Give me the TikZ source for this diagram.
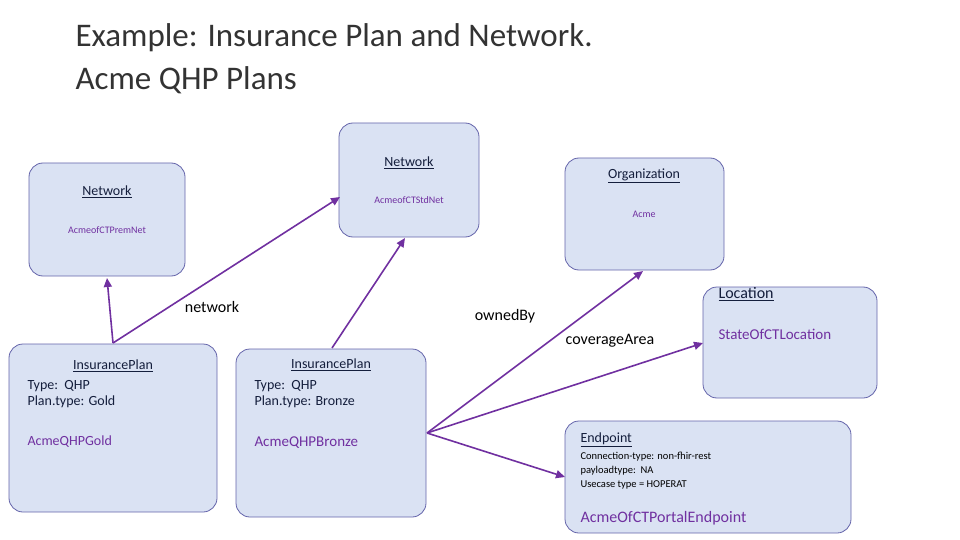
\documentclass[tikz,border=0pt]{standalone}
\usepackage{fontspec}
\setmainfont{Carlito}
\usetikzlibrary{arrows.meta}
\definecolor{boxfill}{RGB}{218,226,243}
\definecolor{boxline}{RGB}{100,100,170}
\definecolor{arr}{RGB}{112,48,160}
\definecolor{val}{RGB}{112,48,160}
\definecolor{ink}{RGB}{20,30,60}
\tikzset{
 box/.style={draw=boxline,fill=boxfill,rounded corners=14pt,line width=0.8pt},
 conn/.style={draw=arr,line width=1.6pt,-{Triangle[length=9pt,width=8pt]}},
 ttl/.style={font=\fontsize{14}{16}\selectfont,text=ink},
 val/.style={text=val},
 lbl/.style={font=\fontsize{16}{18}\selectfont,text=black},
}
\begin{document}
\begin{tikzpicture}[x=1pt,y=-1pt]
\useasboundingbox (0,0) rectangle (960,540);
\node[anchor=west,font=\fontsize{33}{36}\selectfont,text=black!80] (t1) at (72,38) {Example: Insurance Plan and Network.};
\node[anchor=west,font=\fontsize{33}{36}\selectfont,text=black!80] (t2) at (72,80) {Acme QHP Plans};
% boxes
\path[box] (29,163) rectangle (185,276) coordinate (n1);
\path[box] (339,123) rectangle (479,237);
\path[box] (565,158) rectangle (724,270);
\path[box] (703,287) rectangle (877,398);
\path[box] (9,344) rectangle (217,512);
\path[box] (236,349) rectangle (426,517);
\path[box] (565,421) rectangle (851,533);
% coords
\coordinate (gtop) at (113,343);
\coordinate (btop) at (332,348);
\coordinate (bright) at (427,433);
\coordinate (n1b) at (107,278);
\coordinate (n2l) at (340,197);
\coordinate (n2b) at (405,238);
\coordinate (orgb) at (643,271);
\coordinate (locl) at (703,343);
\coordinate (epl) at (565,477);
\draw[conn] (gtop) -- (n1b);
\draw[conn] (gtop) -- (n2l);
\draw[conn] (btop) -- (n2b);
\draw[conn] (bright) -- (orgb);
\draw[conn] (bright) -- (locl);
\draw[conn] (bright) -- (epl);
% texts
\node[ttl] (a1) at (107,192) {\underline{Network}};
\node[val] (a2) at (107,230) {AcmeofCTPremNet};
\node[ttl] (b1) at (409,163) {\underline{Network}};
\node[val] (b2) at (409,200) {AcmeofCTStdNet};
\node[ttl] (c1) at (644,176) {\underline{Organization}};
\node[val] (c2) at (644,214) {Acme};
\node[ttl,anchor=west,font=\fontsize{16}{18}\selectfont] (d1) at (715,294) {\underline{Location}};
\node[val,anchor=west,font=\fontsize{15}{18}\selectfont] (d2) at (715,334) {StateOfCTLocation};
\node[ttl] (e1) at (113,366) {\underline{InsurancePlan}};
\node[ttl,anchor=west,align=left] (e2) at (24,394) {Type:~~QHP\\Plan.type: Gold};
\node[val,anchor=west,font=\fontsize{14}{16}\selectfont] (e3) at (24,442) {AcmeQHPGold};
\node[ttl] (f1) at (331,365) {\underline{InsurancePlan}};
\node[ttl,anchor=west,align=left] (f2) at (251,394) {Type:~~QHP\\Plan.type: Bronze};
\node[val,anchor=west,font=\fontsize{15}{18}\selectfont] (f3) at (251,443) {AcmeQHPBronze};
\node[ttl,anchor=west] (g1) at (577,440) {\underline{Endpoint}};
\node[anchor=west,align=left,font=\fontsize{10.5}{14}\selectfont] (g2) at (577,471) {Connection-type: non-fhir-rest\\payloadtype:~~NA\\Usecase type = HOPERAT};
\node[val,anchor=west,font=\fontsize{16}{18}\selectfont] (g3) at (577,518) {AcmeOfCTPortalEndpoint};
\node[lbl] (l1) at (212,307) {network};
\node[lbl] (l2) at (505,316) {ownedBy};
\node[lbl] (l3) at (610,341) {coverageArea};
\end{tikzpicture}
\end{document}
